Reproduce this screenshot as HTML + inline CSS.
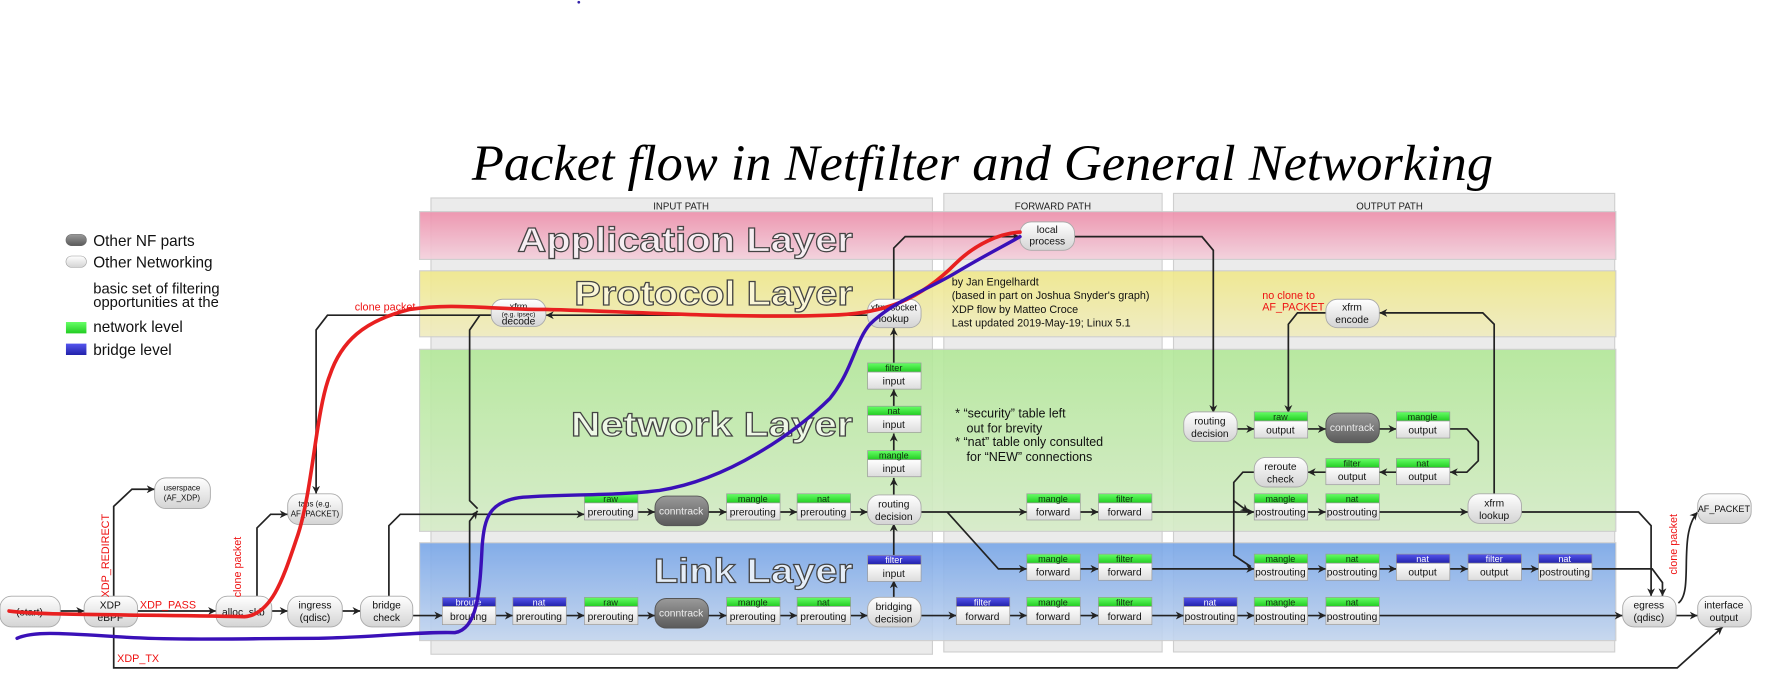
<!DOCTYPE html>
<html><head><meta charset="utf-8"><style>
html,body{margin:0;padding:0;background:#fff;}
svg{display:block}
text{font-family:"Liberation Sans",sans-serif;}
</style></head><body>
<svg width="1783" height="677" viewBox="0 0 1568 595" preserveAspectRatio="none" xmlns="http://www.w3.org/2000/svg">
<defs>
<linearGradient id="pg" x1="0" y1="0" x2="0" y2="1"><stop offset="0" stop-color="#ffffff"/><stop offset="1" stop-color="#d4d4d4"/></linearGradient>
<linearGradient id="dg" x1="0" y1="0" x2="0" y2="1"><stop offset="0" stop-color="#9a9a9a"/><stop offset="1" stop-color="#5a5a5a"/></linearGradient>
<linearGradient id="tb" x1="0" y1="0" x2="0" y2="1"><stop offset="0" stop-color="#ffffff"/><stop offset="1" stop-color="#dcdcdc"/></linearGradient>
<linearGradient id="gr" x1="0" y1="0" x2="0" y2="1"><stop offset="0" stop-color="#66ff66"/><stop offset="1" stop-color="#22cc22"/></linearGradient>
<linearGradient id="bl" x1="0" y1="0" x2="0" y2="1"><stop offset="0" stop-color="#5555ee"/><stop offset="1" stop-color="#2222aa"/></linearGradient>
<linearGradient id="la" x1="0" y1="0" x2="0" y2="1"><stop offset="0" stop-color="#ee8fab"/><stop offset="1" stop-color="#f3d0dc"/></linearGradient>
<linearGradient id="lp" x1="0" y1="0" x2="0" y2="1"><stop offset="0" stop-color="#f0e88a"/><stop offset="1" stop-color="#f0ecc0"/></linearGradient>
<linearGradient id="ln" x1="0" y1="0" x2="0" y2="1"><stop offset="0" stop-color="#b3e899"/><stop offset="1" stop-color="#d6ecc8"/></linearGradient>
<linearGradient id="ll" x1="0" y1="0" x2="0" y2="1"><stop offset="0" stop-color="#78a6e8"/><stop offset="1" stop-color="#c4d6ef"/></linearGradient>
<marker id="a" viewBox="0 0 10 10" refX="10" refY="5" markerWidth="7" markerHeight="7" orient="auto" markerUnits="userSpaceOnUse"><path d="M0,0 L10,5 L0,10 L3,5 z" fill="#222"/></marker>
</defs>

<circle cx="509" cy="2" r="1.2" fill="#3322aa"/>
<text x="415" y="158" textLength="898" lengthAdjust="spacingAndGlyphs" font-style="italic" font-size="45" fill="#000" style="font-family:'Liberation Serif',serif">Packet flow in Netfilter and General Networking</text>

<!-- path panels -->
<rect x="379" y="174" width="441" height="401" fill="#ebebeb" stroke="#cfcfcf"/>
<rect x="830" y="170" width="192" height="403" fill="#ebebeb" stroke="#cfcfcf"/>
<rect x="1032" y="170" width="388" height="403" fill="#ebebeb" stroke="#cfcfcf"/>
<text x="599" y="184" text-anchor="middle" font-size="8.5" fill="#222">INPUT PATH</text>
<text x="926" y="184" text-anchor="middle" font-size="8.5" fill="#222">FORWARD PATH</text>
<text x="1222" y="184" text-anchor="middle" font-size="8.5" fill="#222">OUTPUT PATH</text>

<!-- layers -->
<g opacity="0.9">
<rect x="369" y="186" width="1052" height="42" fill="url(#la)" stroke="#ccc"/>
<rect x="369" y="238" width="1052" height="58" fill="url(#lp)" stroke="#ccc"/>
<rect x="369" y="307" width="1052" height="160" fill="url(#ln)" stroke="#ccc"/>
<rect x="369" y="477" width="1052" height="86" fill="url(#ll)" stroke="#ccc"/>
</g>
<g font-weight="bold" font-size="30" stroke="#444" stroke-width="1" lengthAdjust="spacingAndGlyphs">
<text x="455" y="221" textLength="295" lengthAdjust="spacingAndGlyphs" fill="#f6eef2">Application Layer</text>
<text x="505" y="268" textLength="245" lengthAdjust="spacingAndGlyphs" fill="#faf6d6">Protocol Layer</text>
<text x="502" y="383" textLength="248" lengthAdjust="spacingAndGlyphs" fill="#eef8e6">Network Layer</text>
<text x="575" y="512" textLength="175" lengthAdjust="spacingAndGlyphs" fill="#e6eef8">Link Layer</text>
</g>

<!-- legend -->
<rect x="58" y="206" width="18" height="10" rx="5" fill="url(#dg)" stroke="#666" stroke-width="0.5"/>
<text x="82" y="216" font-size="13.5" fill="#111">Other NF parts</text>
<rect x="58" y="225" width="18" height="10" rx="5" fill="url(#pg)" stroke="#999" stroke-width="0.5"/>
<text x="82" y="235" font-size="13.5" fill="#111">Other Networking</text>
<text x="82" y="258" font-size="13" fill="#111">basic set of filtering</text>
<text x="82" y="270" font-size="13" fill="#111">opportunities at the</text>
<rect x="58" y="283" width="18" height="10" fill="url(#gr)"/>
<text x="82" y="292" font-size="13.5" fill="#111">network level</text>
<rect x="58" y="302" width="18" height="10" fill="url(#bl)"/>
<text x="82" y="312" font-size="13.5" fill="#111">bridge level</text>

<!-- notes -->
<g font-size="9.5" fill="#111" style="font-family:'Liberation Serif',serif">
<text x="837" y="251">by Jan Engelhardt</text>
<text x="837" y="263">(based in part on Joshua Snyder's graph)</text>
<text x="837" y="275">XDP flow by Matteo Croce</text>
<text x="837" y="287">Last updated 2019-May-19; Linux 5.1</text>
</g>
<g font-size="11" fill="#111">
<text x="840" y="367">* “security” table left</text>
<text x="850" y="380">out for brevity</text>
<text x="840" y="392">* “nat” table only consulted</text>
<text x="850" y="405">for “NEW” connections</text>
</g>

<!-- connectors -->
<g stroke="#222" stroke-width="1.5" fill="none">
<path d="M53,537 H74" marker-end="url(#a)"/>
<path d="M121,537 H190" marker-end="url(#a)"/>
<path d="M100,524 V445 L116,430 H136" marker-end="url(#a)"/>
<path d="M100,551 V587 H1475 L1515,551" marker-end="url(#a)"/>
<path d="M239,537 H253" marker-end="url(#a)"/>
<path d="M226,524 V464 L238,452 H253" marker-end="url(#a)"/>
<path d="M301,537 H317" marker-end="url(#a)"/>
<path d="M342,524 V462 L352,452 H514" marker-end="url(#a)"/>
<path d="M432,277 H288 L278,290 V434" marker-end="url(#a)"/>
<path d="M432,277 H422 L413,290 V440 L420,447"/>
<path d="M763,277 H480" marker-end="url(#a)"/>
<path d="M363,541 H389" marker-end="url(#a)"/>
<path d="M413,525 V458 L420,449" marker-end="url(#a)"/>
<path d="M436,541 H451" marker-end="url(#a)"/>
<path d="M498,541 H514" marker-end="url(#a)"/>
<path d="M561,541 H576" marker-end="url(#a)"/>
<path d="M623,541 H639" marker-end="url(#a)"/>
<path d="M686,541 H701" marker-end="url(#a)"/>
<path d="M748,541 H763" marker-end="url(#a)"/>
<path d="M810,541 H841" marker-end="url(#a)"/>
<path d="M888,541 H903" marker-end="url(#a)"/>
<path d="M950,541 H966" marker-end="url(#a)"/>
<path d="M1013,541 H1041" marker-end="url(#a)"/>
<path d="M1088,541 H1103" marker-end="url(#a)"/>
<path d="M1150,541 H1166" marker-end="url(#a)"/>
<path d="M1213,541 H1427" marker-end="url(#a)"/>
<path d="M786,525 V510" marker-end="url(#a)"/>
<path d="M786,488 V460" marker-end="url(#a)"/>
<path d="M561,450 H576" marker-end="url(#a)"/>
<path d="M623,450 H639" marker-end="url(#a)"/>
<path d="M686,450 H701" marker-end="url(#a)"/>
<path d="M748,450 H763" marker-end="url(#a)"/>
<path d="M810,450 H903" marker-end="url(#a)"/>
<path d="M950,450 H966" marker-end="url(#a)"/>
<path d="M1013,450 H1103" marker-end="url(#a)"/>
<path d="M1150,450 H1166" marker-end="url(#a)"/>
<path d="M1213,450 H1291" marker-end="url(#a)"/>
<path d="M1338,450 H1441 L1452,462 V524" marker-end="url(#a)"/>
<path d="M833,450 L878,500 H903" marker-end="url(#a)"/>
<path d="M950,500 H966" marker-end="url(#a)"/>
<path d="M1013,500 H1103" marker-end="url(#a)"/>
<path d="M1150,500 H1166" marker-end="url(#a)"/>
<path d="M1213,500 H1228" marker-end="url(#a)"/>
<path d="M1275,500 H1291" marker-end="url(#a)"/>
<path d="M1338,500 H1353" marker-end="url(#a)"/>
<path d="M1400,500 H1453 L1462,512 V524" marker-end="url(#a)"/>
<path d="M786,435 V420" marker-end="url(#a)"/>
<path d="M786,396 V381" marker-end="url(#a)"/>
<path d="M786,357 V342" marker-end="url(#a)"/>
<path d="M786,319 V288" marker-end="url(#a)"/>
<path d="M786,263 V218 L796,208 H897" marker-end="url(#a)"/>
<path d="M945,208 H1057 L1067,220 V363" marker-end="url(#a)"/>
<path d="M1088,377 H1103" marker-end="url(#a)"/>
<path d="M1150,377 H1166" marker-end="url(#a)"/>
<path d="M1213,377 H1228" marker-end="url(#a)"/>
<path d="M1275,377 H1290 L1300,388 V405 L1290,415 H1275" marker-end="url(#a)"/>
<path d="M1228,415 H1213" marker-end="url(#a)"/>
<path d="M1166,415 H1150" marker-end="url(#a)"/>
<path d="M1103,415 H1093 L1085,424 V488 L1100,498"/>
<path d="M1085,440 L1098,450" marker-end="url(#a)"/>
<path d="M1314,435 V285 L1304,275 H1213" marker-end="url(#a)"/>
<path d="M1166,275 H1141 L1133,285 V363" marker-end="url(#a)"/>
<path d="M1474,541 H1493" marker-end="url(#a)"/>
<path d="M1476,530 C1490,520 1475,470 1493,450" marker-end="url(#a)"/>
</g>

<!-- pill nodes -->
<g font-size="9" text-anchor="middle" fill="#111">
<g stroke="#aaa" stroke-width="0.8" fill="url(#pg)">
<rect x="0" y="524" width="53" height="27" rx="10"/>
<rect x="74" y="524" width="47" height="27" rx="10"/>
<rect x="136" y="420" width="49" height="27" rx="10"/>
<rect x="190" y="524" width="49" height="27" rx="10"/>
<rect x="253" y="434" width="48" height="27" rx="10"/>
<rect x="253" y="524" width="48" height="27" rx="10"/>
<rect x="317" y="524" width="46" height="27" rx="10"/>
<rect x="432" y="263" width="48" height="24" rx="10"/>
<rect x="763" y="263" width="47" height="25" rx="10"/>
<rect x="763" y="435" width="47" height="26" rx="10"/>
<rect x="763" y="525" width="47" height="26" rx="10"/>
<rect x="897" y="195" width="48" height="25" rx="10"/>
<rect x="1041" y="362" width="47" height="26" rx="10"/>
<rect x="1103" y="402" width="47" height="26" rx="10"/>
<rect x="1166" y="263" width="47" height="25" rx="10"/>
<rect x="1291" y="434" width="47" height="26" rx="10"/>
<rect x="1427" y="524" width="47" height="27" rx="10"/>
<rect x="1493" y="434" width="47" height="26" rx="10"/>
<rect x="1493" y="524" width="47" height="27" rx="10"/>
</g>
<g stroke="#555" stroke-width="0.8" fill="url(#dg)">
<rect x="576" y="526" width="47" height="26" rx="10"/>
<rect x="576" y="436" width="47" height="26" rx="10"/>
<rect x="1166" y="363" width="47" height="26" rx="10"/>
</g>
<text x="26" y="541">(start)</text>
<text x="97" y="535">XDP</text><text x="97" y="546">eBPF</text>
<text x="160" y="431" font-size="7">userspace</text><text x="160" y="440" font-size="7">(AF_XDP)</text>
<text x="214" y="541">alloc_skb</text>
<text x="277" y="445" font-size="7">taps (e.g.</text><text x="277" y="454" font-size="7">AF_PACKET)</text>
<text x="277" y="535">ingress</text><text x="277" y="546">(qdisc)</text>
<text x="340" y="535">bridge</text><text x="340" y="546">check</text>
<text x="456" y="272" font-size="8">xfrm</text><text x="456" y="278" font-size="6">(e.g. ipsec)</text><text x="456" y="285">decode</text>
<text x="786" y="273" font-size="8">xfrm/socket</text><text x="786" y="283">lookup</text>
<text x="786" y="446">routing</text><text x="786" y="457">decision</text>
<text x="786" y="536">bridging</text><text x="786" y="547">decision</text>
<text x="921" y="205">local</text><text x="921" y="215">process</text>
<text x="1064" y="373">routing</text><text x="1064" y="384">decision</text>
<text x="1126" y="413">reroute</text><text x="1126" y="424">check</text>
<text x="1189" y="273">xfrm</text><text x="1189" y="284">encode</text>
<text x="1314" y="445">xfrm</text><text x="1314" y="456">lookup</text>
<text x="1450" y="535">egress</text><text x="1450" y="546">(qdisc)</text>
<text x="1516" y="450" font-size="8">AF_PACKET</text>
<text x="1516" y="535">interface</text><text x="1516" y="546">output</text>
<g fill="#eee"><text x="599" y="542">conntrack</text><text x="599" y="452">conntrack</text><text x="1189" y="379">conntrack</text></g>
</g>

<!-- table nodes -->
<g font-size="9" text-anchor="middle">
<g stroke="#999" stroke-width="0.6">
<g fill="url(#gr)">
<rect x="514" y="434" width="47" height="8"/><rect x="639" y="434" width="47" height="8"/><rect x="701" y="434" width="47" height="8"/>
<rect x="763" y="396" width="47" height="8"/><rect x="763" y="357" width="47" height="8"/><rect x="763" y="319" width="47" height="8"/>
<rect x="903" y="434" width="47" height="8"/><rect x="966" y="434" width="47" height="8"/>
<rect x="1103" y="434" width="47" height="8"/><rect x="1166" y="434" width="47" height="8"/>
<rect x="1103" y="362" width="47" height="8"/><rect x="1228" y="362" width="47" height="8"/>
<rect x="1166" y="403" width="47" height="8"/><rect x="1228" y="403" width="47" height="8"/>
<rect x="903" y="487" width="47" height="8"/><rect x="966" y="487" width="47" height="8"/>
<rect x="1103" y="487" width="47" height="8"/><rect x="1166" y="487" width="47" height="8"/>
<rect x="514" y="525" width="47" height="8"/><rect x="639" y="525" width="47" height="8"/><rect x="701" y="525" width="47" height="8"/>
<rect x="903" y="525" width="47" height="8"/><rect x="966" y="525" width="47" height="8"/>
<rect x="1103" y="525" width="47" height="8"/><rect x="1166" y="525" width="47" height="8"/>
</g>
<g fill="url(#bl)">
<rect x="389" y="525" width="47" height="8"/><rect x="451" y="525" width="47" height="8"/>
<rect x="763" y="488" width="47" height="8"/><rect x="841" y="525" width="47" height="8"/>
<rect x="1041" y="525" width="47" height="8"/>
<rect x="1228" y="487" width="47" height="8"/><rect x="1291" y="487" width="47" height="8"/><rect x="1353" y="487" width="47" height="8"/>
</g>
<g fill="url(#tb)">
<rect x="514" y="442" width="47" height="15"/><rect x="639" y="442" width="47" height="15"/><rect x="701" y="442" width="47" height="15"/>
<rect x="763" y="404" width="47" height="15"/><rect x="763" y="365" width="47" height="15"/><rect x="763" y="327" width="47" height="15"/>
<rect x="903" y="442" width="47" height="15"/><rect x="966" y="442" width="47" height="15"/>
<rect x="1103" y="442" width="47" height="15"/><rect x="1166" y="442" width="47" height="15"/>
<rect x="1103" y="370" width="47" height="15"/><rect x="1228" y="370" width="47" height="15"/>
<rect x="1166" y="411" width="47" height="15"/><rect x="1228" y="411" width="47" height="15"/>
<rect x="903" y="495" width="47" height="15"/><rect x="966" y="495" width="47" height="15"/>
<rect x="1103" y="495" width="47" height="15"/><rect x="1166" y="495" width="47" height="15"/>
<rect x="514" y="533" width="47" height="16"/><rect x="639" y="533" width="47" height="16"/><rect x="701" y="533" width="47" height="16"/>
<rect x="903" y="533" width="47" height="16"/><rect x="966" y="533" width="47" height="16"/>
<rect x="1103" y="533" width="47" height="16"/><rect x="1166" y="533" width="47" height="16"/>
<rect x="389" y="533" width="47" height="16"/><rect x="451" y="533" width="47" height="16"/>
<rect x="763" y="496" width="47" height="15"/><rect x="841" y="533" width="47" height="16"/>
<rect x="1041" y="533" width="47" height="16"/>
<rect x="1228" y="495" width="47" height="15"/><rect x="1291" y="495" width="47" height="15"/><rect x="1353" y="495" width="47" height="15"/>
</g>
</g>
<g font-size="8" fill="#113311">
<text x="537" y="441">raw</text><text x="662" y="441">mangle</text><text x="724" y="441">nat</text>
<text x="786" y="403">mangle</text><text x="786" y="364">nat</text><text x="786" y="326">filter</text>
<text x="926" y="441">mangle</text><text x="989" y="441">filter</text>
<text x="1126" y="441">mangle</text><text x="1189" y="441">nat</text>
<text x="1126" y="369">raw</text><text x="1251" y="369">mangle</text>
<text x="1189" y="410">filter</text><text x="1251" y="410">nat</text>
<text x="926" y="494">mangle</text><text x="989" y="494">filter</text>
<text x="1126" y="494">mangle</text><text x="1189" y="494">nat</text>
<text x="537" y="532">raw</text><text x="662" y="532">mangle</text><text x="724" y="532">nat</text>
<text x="926" y="532">mangle</text><text x="989" y="532">filter</text>
<text x="1126" y="532">mangle</text><text x="1189" y="532">nat</text>
</g>
<g font-size="8" fill="#fff">
<text x="412" y="532">broute</text><text x="474" y="532">nat</text>
<text x="786" y="495">filter</text><text x="864" y="532">filter</text>
<text x="1064" y="532">nat</text>
<text x="1251" y="494">nat</text><text x="1314" y="494">filter</text><text x="1376" y="494">nat</text>
</g>
<g fill="#111">
<text x="537" y="453">prerouting</text><text x="662" y="453">prerouting</text><text x="724" y="453">prerouting</text>
<text x="786" y="415">input</text><text x="786" y="376">input</text><text x="786" y="338">input</text>
<text x="926" y="453">forward</text><text x="989" y="453">forward</text>
<text x="1126" y="453">postrouting</text><text x="1189" y="453">postrouting</text>
<text x="1126" y="381">output</text><text x="1251" y="381">output</text>
<text x="1189" y="422">output</text><text x="1251" y="422">output</text>
<text x="926" y="506">forward</text><text x="989" y="506">forward</text>
<text x="1126" y="506">postrouting</text><text x="1189" y="506">postrouting</text>
<text x="537" y="545">prerouting</text><text x="662" y="545">prerouting</text><text x="724" y="545">prerouting</text>
<text x="926" y="545">forward</text><text x="989" y="545">forward</text>
<text x="1126" y="545">postrouting</text><text x="1189" y="545">postrouting</text>
<text x="412" y="545">brouting</text><text x="474" y="545">prerouting</text>
<text x="786" y="507">input</text><text x="864" y="545">forward</text>
<text x="1064" y="545">postrouting</text>
<text x="1251" y="506">output</text><text x="1314" y="506">output</text><text x="1376" y="506">postrouting</text>
</g>
</g>

<!-- red labels -->
<g fill="#ee1111" font-size="9.5">
<text x="312" y="273">clone packet</text>
<text x="123" y="535">XDP_PASS</text>
<text x="103" y="582">XDP_TX</text>
<text x="1110" y="263">no clone to</text>
<text x="1110" y="273">AF_PACKET</text>
<text transform="translate(96,525) rotate(-90)">XDP_REDIRECT</text>
<text transform="translate(212,525) rotate(-90)">clone packet</text>
<text transform="translate(1475,505) rotate(-90)">clone packet</text>
</g>

<!-- freehand strokes -->
<path d="M8,537 C40,541 120,540 215,542 C240,540 250,505 262,470 C275,430 278,360 290,330 C300,300 320,282 360,272 C400,266 430,272 480,272 C560,274 650,280 730,277 C780,276 810,262 840,232 C858,214 880,205 897,204" fill="none" stroke="#e82020" stroke-width="3.2" stroke-linecap="round"/>
<path d="M15,561 C30,554 60,557 110,560 C160,563 220,561 280,561 C330,560 370,555 400,556 C420,553 422,520 424,480 C426,455 430,440 460,437 C500,434 540,436 580,431 C640,422 700,380 730,350 C750,325 752,300 765,285 C785,265 815,255 840,240 C865,225 885,215 897,208" fill="none" stroke="#3a10b8" stroke-width="3" stroke-linecap="round"/>
</svg>
</body></html>
